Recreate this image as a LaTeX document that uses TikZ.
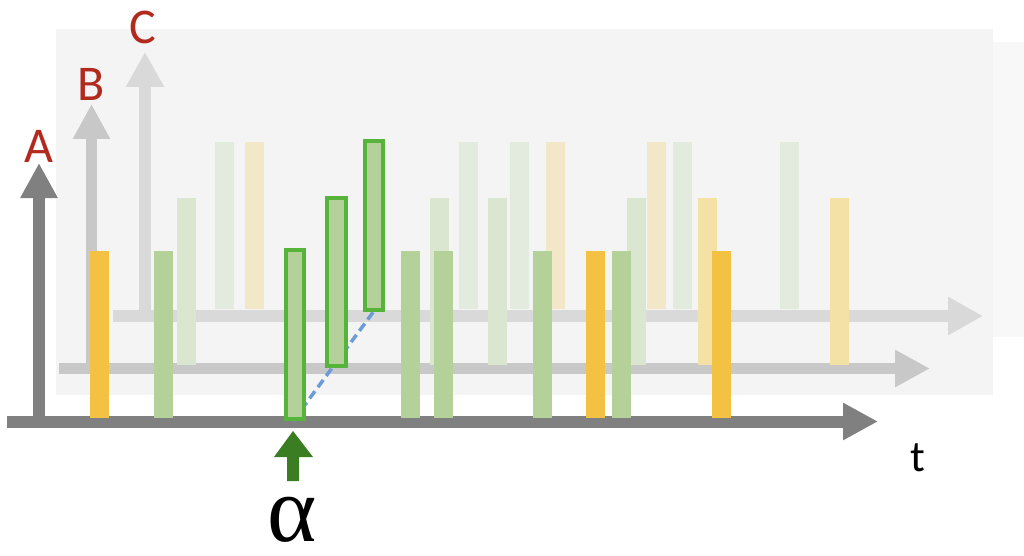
\documentclass[tikz,border=0pt]{standalone}
\usepackage{fontspec}
\setmainfont{Carlito}
\newfontfamily\grkfont{Liberation Serif}
\usetikzlibrary{arrows.meta}
\definecolor{axA}{HTML}{808080}
\definecolor{axB}{HTML}{C8C8C8}
\definecolor{axC}{HTML}{D9D9D9}
\definecolor{yA}{HTML}{F4C242}
\definecolor{gA}{HTML}{B3D198}
\definecolor{gB}{HTML}{DAE6D0}
\definecolor{yB}{HTML}{F3E1A5}
\definecolor{gC}{HTML}{E2EBDE}
\definecolor{yC}{HTML}{F2E8C7}
\definecolor{hiline}{HTML}{57B43A}
\definecolor{lbl}{HTML}{B22A1E}
\definecolor{dashblue}{HTML}{6C9BD5}
\definecolor{darkg}{HTML}{3A7D22}
\definecolor{panB}{HTML}{F4F4F4}
\definecolor{panC}{HTML}{F8F8F8}
\tikzset{
  axisA/.style={line width=12pt, draw=axA, -{Triangle[length=35pt,width=35pt]}},
  axisB/.style={line width=11pt, draw=axB, -{Triangle[length=35pt,width=35pt]}},
  axisC/.style={line width=12pt, draw=axC, -{Triangle[length=35pt,width=36pt]}},
  hibar/.style={fill=gA, draw=hiline, line width=4pt},
  axlabel/.style={text=lbl, font=\fontsize{50}{50}\selectfont, inner sep=0pt},
}
\begin{document}
\begin{tikzpicture}[x=1pt,y=-1pt]
\useasboundingbox (0,0) rectangle (1024,556);
% panels
\fill[panC] (110,42) rectangle (1024,337);
\fill[panB] (56,29) rectangle (993,395);
% C layer
\coordinate (c0) at (145,316);
\coordinate (c1) at (145,52);
\coordinate (c2) at (113,316);
\coordinate (c3) at (983,316);
\draw[axisC] (c0) -- (c1);
\draw[axisC] (c2) -- (c3);
\foreach \x/\c in {215/gC,245/yC,459/gC,510/gC,546/yC,647/yC,673/gC,780/gC}
  \fill[\c] (\x,142) rectangle ++(19,167);
% B layer
\coordinate (b0) at (91.5,368.5);
\coordinate (b1) at (91.5,104);
\coordinate (b2) at (59,368.5);
\coordinate (b3) at (930,368.5);
\draw[axisB] (b0) -- (b1);
\draw[axisB] (b2) -- (b3);
\foreach \x/\c in {177/gB,430/gB,488/gB,627/gB,698/yB,830/yB}
  \fill[\c] (\x,198) rectangle ++(19,167);
% A layer
\coordinate (a0) at (39,421);
\coordinate (a1) at (39,163);
\coordinate (a2) at (7,421.5);
\coordinate (a3) at (878,421.5);
\draw[axisA] (a0) -- (a1);
\draw[axisA] (a2) -- (a3);
\foreach \x/\c in {90/yA,154/gA,401/gA,434/gA,533/gA,586/yA,612/gA,712/yA}
  \fill[\c] (\x,251) rectangle ++(19,167);
% dashed link
\coordinate (d0) at (293,421);
\coordinate (d1) at (374,311);
\draw[dashblue, line width=3.5pt, dash pattern=on 9pt off 5pt] (d0) -- (d1);
% highlighted bars
\draw[hibar] (286,250) rectangle (304,419);
\draw[hibar] (327,198) rectangle (346,366);
\draw[hibar] (365,141) rectangle (383,310);
% green arrow
\fill[darkg] (293,431) -- (313,457) -- (299,457) -- (299,481) -- (287,481) -- (287,457) -- (274,457) -- cycle;
% labels
\node[axlabel] (lA) at (39,146) {A};
\node[axlabel] (lB) at (91,84) {B};
\node[axlabel] (lC) at (143,27) {C};
\node[inner sep=0pt, font=\fontsize{44}{44}\selectfont] (lt) at (918,458) {t};
\node[inner sep=0pt, anchor=base, text height=44pt, text depth=1pt, font=\grkfont\fontsize{94}{94}\selectfont] (lal) at (292,541) {α};
\end{tikzpicture}
\end{document}
